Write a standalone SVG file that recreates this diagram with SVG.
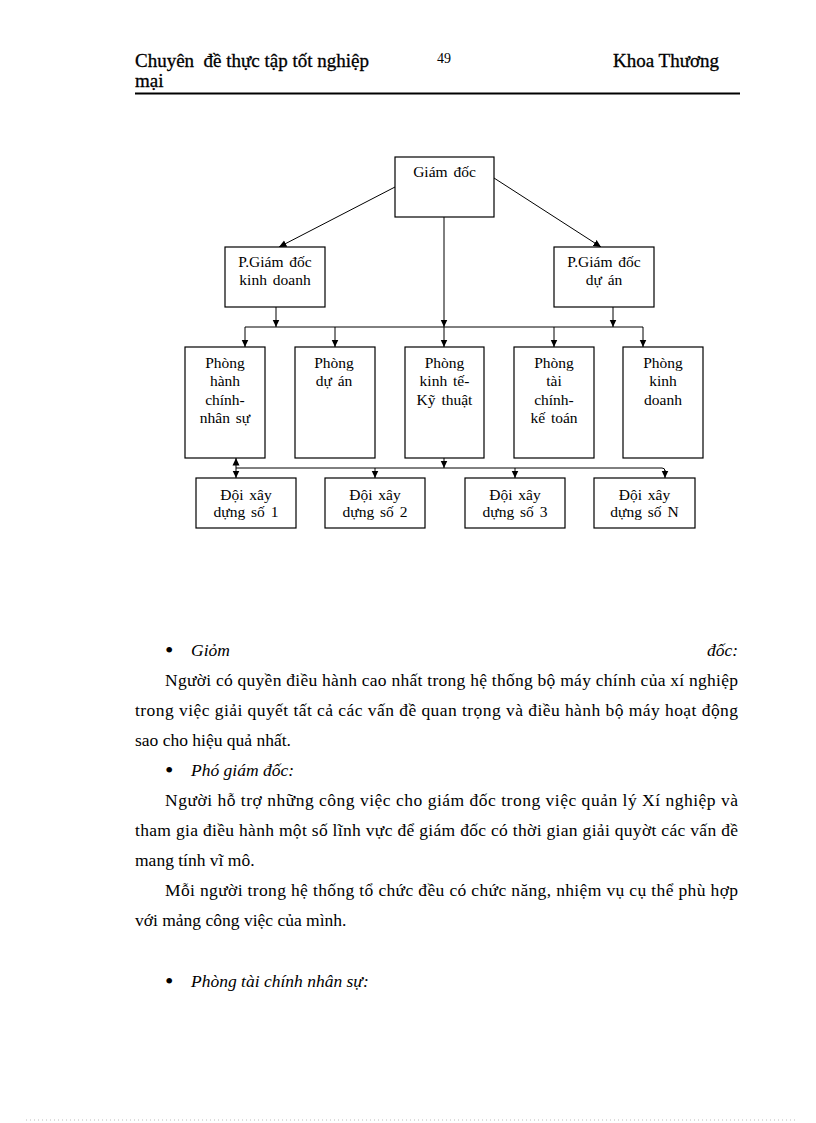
<svg xmlns="http://www.w3.org/2000/svg" width="816" height="1123" viewBox="0 0 816 1123">
<defs>
<marker id="arr" markerUnits="userSpaceOnUse" markerWidth="8" markerHeight="8" refX="7.5" refY="4" orient="auto">
<path d="M0,0.5 L7.5,4 L0,7.5 z" fill="#000"/>
</marker>
<style>
.box{fill:#fff;stroke:#000;stroke-width:1.2}
.lbl{font-family:"Liberation Serif","Times New Roman",serif;font-size:15.5px;fill:#000;text-anchor:middle;word-spacing:2px}
.ln{stroke:#000;stroke-width:1;fill:none}
.ar{stroke:#000;stroke-width:1;fill:none;marker-end:url(#arr)}
.hd{font-family:"Liberation Serif","Times New Roman",serif;font-size:19px;fill:#000;stroke:#000;stroke-width:0.3}
.bd{font-family:"Liberation Serif","Times New Roman",serif;font-size:17.5px;fill:#000}
.bl{font-family:"Liberation Serif","Times New Roman",serif;font-size:24px;fill:#000}
.it{font-style:italic}
</style>
</defs>
<rect width="816" height="1123" fill="#fff"/>

<g id="page-header">
<text class="hd" x="135" y="67" xml:space="preserve">Chuyên  đề thực tập tốt nghiệp</text>
<text class="hd" x="135" y="87">mại</text>
<text x="437" y="63" style="font-family:'Liberation Serif','Times New Roman',serif;font-size:14px">49</text>
<text class="hd" x="613" y="67">Khoa Thương</text>
<line x1="135" y1="93.5" x2="740" y2="93.5" stroke="#000" stroke-width="2.2"/>
</g>

<g id="connectors">
<line class="ar" x1="395" y1="187" x2="279" y2="247"/>
<line class="ar" x1="494" y1="178" x2="601" y2="247"/>
<line class="ar" x1="444" y1="217" x2="444" y2="327"/>
<line class="ar" x1="276" y1="307" x2="276" y2="327"/>
<line class="ar" x1="613" y1="307" x2="613" y2="327"/>
<line class="ln" x1="245" y1="327" x2="643" y2="327"/>
<line class="ar" x1="245" y1="327" x2="245" y2="347"/>
<line class="ar" x1="335" y1="327" x2="335" y2="347"/>
<line class="ar" x1="444" y1="327" x2="444" y2="347"/>
<line class="ar" x1="554" y1="327" x2="554" y2="347"/>
<line class="ar" x1="643" y1="327" x2="643" y2="347"/>
<line class="ar" x1="444" y1="458" x2="444" y2="468"/>
<path class="ln" d="M236,468 H662 Q665,468 665,471"/>
<line class="ar" x1="236" y1="468" x2="236" y2="458"/>
<line class="ar" x1="236" y1="468" x2="236" y2="478"/>
<line class="ar" x1="375" y1="468" x2="375" y2="478"/>
<line class="ar" x1="515" y1="468" x2="515" y2="478"/>
<line class="ar" x1="665" y1="470" x2="665" y2="478"/>
</g>

<g id="giam-doc">
<rect class="box" x="395" y="157" width="99" height="60"/>
<text class="lbl" x="444.5" y="177">Giám đốc</text>
</g>
<g id="pgd-kinh-doanh">
<rect class="box" x="225" y="247" width="100" height="60"/>
<text class="lbl" x="275" y="267">P.Giám đốc</text>
<text class="lbl" x="275" y="285">kinh doanh</text>
</g>
<g id="pgd-du-an">
<rect class="box" x="554" y="247" width="100" height="60"/>
<text class="lbl" x="604" y="267">P.Giám đốc</text>
<text class="lbl" x="604" y="285">dự án</text>
</g>

<g id="phong-hcns">
<rect class="box" x="185" y="347" width="80" height="111"/>
<text class="lbl" x="225" y="368">Phòng</text>
<text class="lbl" x="225" y="386">hành</text>
<text class="lbl" x="225" y="404.5">chính-</text>
<text class="lbl" x="225" y="423">nhân sự</text>
</g>
<g id="phong-du-an">
<rect class="box" x="295" y="347" width="80" height="111"/>
<text class="lbl" x="334" y="368">Phòng</text>
<text class="lbl" x="334" y="386">dự án</text>
</g>
<g id="phong-kinh-te">
<rect class="box" x="405" y="347" width="79" height="111"/>
<text class="lbl" x="444.5" y="368">Phòng</text>
<text class="lbl" x="444.5" y="386">kinh tế-</text>
<text class="lbl" x="444.5" y="404.5">Kỹ thuật</text>
</g>
<g id="phong-tai-chinh">
<rect class="box" x="514" y="347" width="80" height="111"/>
<text class="lbl" x="554" y="368">Phòng</text>
<text class="lbl" x="554" y="386">tài</text>
<text class="lbl" x="554" y="404.5">chính-</text>
<text class="lbl" x="554" y="423">kế toán</text>
</g>
<g id="phong-kinh-doanh">
<rect class="box" x="623" y="347" width="80" height="111"/>
<text class="lbl" x="663" y="368">Phòng</text>
<text class="lbl" x="663" y="386">kinh</text>
<text class="lbl" x="663" y="404.5">doanh</text>
</g>

<g id="doi-1">
<rect class="box" x="196" y="478" width="100" height="50"/>
<text class="lbl" x="246" y="500">Đội xây</text>
<text class="lbl" x="246" y="517">dựng số 1</text>
</g>
<g id="doi-2">
<rect class="box" x="325" y="478" width="100" height="50"/>
<text class="lbl" x="375" y="500">Đội xây</text>
<text class="lbl" x="375" y="517">dựng số 2</text>
</g>
<g id="doi-3">
<rect class="box" x="465" y="478" width="100" height="50"/>
<text class="lbl" x="515" y="500">Đội xây</text>
<text class="lbl" x="515" y="517">dựng số 3</text>
</g>
<g id="doi-n">
<rect class="box" x="594" y="478" width="101" height="50"/>
<text class="lbl" x="644.5" y="500">Đội xây</text>
<text class="lbl" x="644.5" y="517">dựng số N</text>
</g>

<g id="body-text">
<text class="bl" x="165" y="658">•</text>
<text class="bd it" x="191" y="656">Giỏm</text>
<text class="bd it" x="738" y="656" text-anchor="end">đốc:</text>
<text class="bd" x="165" y="685.5" textLength="573" lengthAdjust="spacing">Người có quyền điều hành cao nhất trong hệ thống bộ máy chính của xí nghiệp</text>
<text class="bd" x="135" y="715.5" textLength="603" lengthAdjust="spacing">trong việc giải quyết tất cả các vấn đề quan trọng và điều hành bộ máy hoạt động</text>
<text class="bd" x="135" y="745.5">sao cho hiệu quả nhất.</text>
<text class="bl" x="165" y="778">•</text>
<text class="bd it" x="191" y="776">Phó giám đốc:</text>
<text class="bd" x="165" y="806" textLength="573" lengthAdjust="spacing">Người hỗ trợ những công việc cho giám đốc trong việc quản lý Xí nghiệp và</text>
<text class="bd" x="135" y="836" textLength="603" lengthAdjust="spacing">tham gia điều hành một số lĩnh vực để giám đốc có thời gian giải quyờt các vấn đề</text>
<text class="bd" x="135" y="866">mang tính vĩ mô.</text>
<text class="bd" x="165" y="896" textLength="573" lengthAdjust="spacing">Mỗi người trong hệ thống tổ chức đều có chức năng, nhiệm vụ cụ thể phù hợp</text>
<text class="bd" x="135" y="926">với mảng công việc của mình.</text>
<text class="bl" x="165" y="989">•</text>
<text class="bd it" x="191" y="987">Phòng tài chính nhân sự:</text>
</g>

<line x1="26" y1="1120" x2="795" y2="1120" stroke="#bbb" stroke-width="1" stroke-dasharray="1,3"/>
</svg>
